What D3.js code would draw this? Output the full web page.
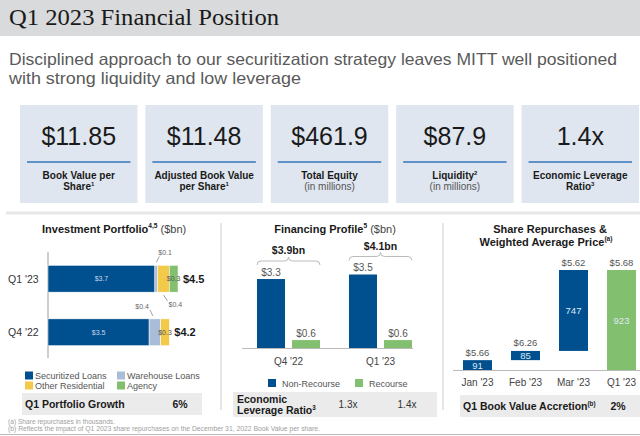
<!DOCTYPE html>
<html><head><meta charset="utf-8">
<script src="https://cdn.jsdelivr.net/npm/d3@7"></script>
<style>html,body{margin:0;padding:0;background:#fff;} svg{display:block;font-family:"Liberation Sans",Arial,sans-serif;}</style>
</head><body><svg id="c" width="640" height="436"></svg>
<script>
// ---------- DATA ----------
const titleText = "Q1 2023 Financial Position";
const subtitleLines = ["Disciplined approach to our securitization strategy leaves MITT well positioned",
                       "with strong liquidity and low leverage"];
const kpiValues = ["$11.85", "$11.48", "$461.9", "$87.9", "1.4x"];
const kpiLabels = [
  [["Book Value per"], ["Share", {t:"1", sup:true}]],
  [["Adjusted Book Value"], ["per Share", {t:"1", sup:true}]],
  [["Total Equity"], [{t:"(in millions)", normal:true, fill:"#555"}]],
  [["Liquidity", {t:"2", sup:true}], [{t:"(in millions)", normal:true, fill:"#555"}]],
  [["Economic Leverage"], ["Ratio", {t:"3", sup:true}]]
];

// Investment portfolio ($bn)
const portfolioTitle = ["Investment Portfolio", {t:"4,5", sup:true}, {t:" ($bn)", normal:true, fill:"#444"}];
const portfolioPeriods = ["Q1 '23", "Q4 '22"];
const portfolioKeys = ["securitized", "warehouse", "other", "agency"];
const portfolioSeries = ["Securitized Loans", "Warehouse Loans", "Other Residential", "Agency"];
const securitized = [3.7, 3.5];
const warehouse = [0.1, 0.4];
const otherResidential = [0.4, 0.3];
const agency = [0.3, 0.0];
const portfolioTotals = ["$4.5", "$4.2"];
const portfolioGrowthLabel = "Q1 Portfolio Growth";
const portfolioGrowth = "6%";

// Financing profile ($bn)
const financingTitle = ["Financing Profile", {t:"5", sup:true}, {t:" ($bn)", normal:true, fill:"#444"}];
const financingPeriods = ["Q4 '22", "Q1 '23"];
const financingSeries = ["Non-Recourse", "Recourse"];
const nonRecourse = [3.3, 3.5];
const recourse = [0.6, 0.6];
const financingTotals = ["$3.9bn", "$4.1bn"];
const leverageRatios = ["1.3x", "1.4x"];

// Share repurchases (thousands) & weighted average price
const repoTitle1 = ["Share Repurchases &"];
const repoTitle2 = ["Weighted Average Price", {t:"(a)", sup:true}];
const repoMonths = ["Jan '23", "Feb '23", "Mar '23", "Q1 '23"];
const repoShares = [91, 85, 747, 923];
const repoIsTotal = [false, false, false, true];
const repoPrices = ["$5.66", "$6.26", "$5.62", "$5.68"];
const accretionLabel = ["Q1 Book Value Accretion", {t:"(b)", sup:true}];
const accretion = "2%";

const footnotes = ["(a) Share repurchases in thousands.",
  "(b) Reflects the impact of Q1 2023 share repurchases on the December 31, 2022 Book Value per share."];

// ---------- STYLE ----------
const C = {navy:"#00508f", lightBlue:"#a9bcd8", yellow:"#f3c94a", green:"#82bf6f",
           box:"#dfe6ef", sum:"#ebebeb", line:"#5e92c8", text:"#1a1a1a", gray:"#555"};
const portfolioColors = [C.navy, C.lightBlue, C.yellow, C.green];

const svg = d3.select("#c");

function rich(g, x, y, parts, o) {
  o = o || {};
  const size = o.size || 10;
  const t = g.append("text").attr("x", x).attr("y", y).attr("font-size", size)
    .attr("text-anchor", o.anchor || "start").attr("font-weight", o.weight || "normal")
    .attr("fill", o.fill || C.text);
  let shifted = 0;
  parts.forEach(p => {
    const s = typeof p === "string" ? {t:p} : p;
    const ts = t.append("tspan").text(s.t);
    const want = s.sup ? -size * 0.42 : 0;
    if (want !== shifted) { ts.attr("dy", want - shifted); shifted = want; }
    if (s.sup) ts.attr("font-size", size * 0.6);
    if (s.normal) ts.attr("font-weight", "normal");
    if (s.fill) ts.attr("fill", s.fill);
  });
  return t;
}

// ---------- HEADER ----------
svg.append("rect").attr("x", 0).attr("y", 0).attr("width", 640).attr("height", 36).attr("fill", "#d9dadc");
svg.append("text").attr("x", 9).attr("y", 25).attr("font-family", "'Liberation Serif','DejaVu Serif',serif")
  .attr("font-size", 23).attr("fill", "#1a1a1a").attr("textLength", 270).attr("lengthAdjust", "spacingAndGlyphs")
  .text(titleText);
const subLens = [608, 292];
subtitleLines.forEach((s, i) => {
  svg.append("text").attr("x", 9).attr("y", 65 + i * 19).attr("font-size", 16.5).attr("fill", "#5a5a5a")
    .attr("textLength", subLens[i]).attr("lengthAdjust", "spacingAndGlyphs").text(s);
});

// ---------- KPI ROW ----------
const kx = d3.scaleBand().domain(d3.range(kpiValues.length)).range([20, 639]).paddingInner(0.063);
const kg = svg.append("g");
kpiValues.forEach((v, i) => {
  const x0 = kx(i), w = kx.bandwidth(), cx = x0 + w / 2;
  kg.append("rect").attr("x", x0).attr("y", 105).attr("width", w).attr("height", 98).attr("fill", C.box);
  kg.append("text").attr("x", cx).attr("y", 145).attr("text-anchor", "middle").attr("font-size", 25)
    .attr("fill", C.text).text(v);
  kg.append("line").attr("x1", x0 + 7).attr("x2", x0 + w - 7).attr("y1", 162).attr("y2", 162)
    .attr("stroke", C.line).attr("stroke-width", 2);
  kpiLabels[i].forEach((ln, j) => {
    rich(kg, cx, 179 + j * 11, ln, {size: 10, anchor: "middle", weight: "bold"});
  });
});

// separators
svg.append("line").attr("x1", 6).attr("x2", 640).attr("y1", 213).attr("y2", 213).attr("stroke", "#e7e7e7").attr("stroke-width", 3);
[221, 443].forEach(x => svg.append("line").attr("x1", x).attr("x2", x).attr("y1", 223).attr("y2", 410)
  .attr("stroke", "#e6e6e6").attr("stroke-width", 2));

// ---------- PANEL 1: INVESTMENT PORTFOLIO ----------
const p1 = svg.append("g");
rich(p1, 42, 233, portfolioTitle, {size: 11, weight: "bold"});
const pTable = portfolioPeriods.map((p, i) => ({period: p, securitized: securitized[i], warehouse: warehouse[i],
  other: otherResidential[i], agency: agency[i]}));
const pStack = d3.stack().keys(portfolioKeys)(pTable);
const px = d3.scaleLinear().domain([0, 4.5]).range([48, 178]);
const py = d3.scaleBand().domain(portfolioPeriods).range([252, 359]).paddingInner(0.5).paddingOuter(0.25);
p1.append("line").attr("x1", 48).attr("x2", 48).attr("y1", 252).attr("y2", 358).attr("stroke", "#bdbdbd").attr("stroke-width", 1.5);
pStack.forEach((layer, k) => {
  p1.selectAll(null).data(layer.filter(d => d[1] - d[0] > 0)).join("rect")
    .attr("x", d => px(d[0])).attr("y", d => py(d.data.period))
    .attr("width", d => px(d[1]) - px(d[0])).attr("height", py.bandwidth())
    .attr("fill", portfolioColors[k]).attr("stroke", "#fff").attr("stroke-width", 0.5);
});
const fmt = v => "$" + v.toFixed(1);
portfolioPeriods.forEach((p, i) => {
  const top = py(p), bot = top + py.bandwidth(), cy = top + py.bandwidth() / 2;
  p1.append("text").attr("x", 8).attr("y", cy + 4).attr("font-size", 10.5).attr("fill", "#333").text(p);
  const segs = pStack.map(l => l[i]);
  let lastNZ = -1; segs.forEach((s, k) => { if (s[1] - s[0] > 0) lastNZ = k; });
  segs.forEach((s, k) => {
    const v = s[1] - s[0]; if (v <= 0) return;
    const cx = (px(s[0]) + px(s[1])) / 2;
    if (k === 0) {
      p1.append("text").attr("x", cx).attr("y", cy + 2.5).attr("text-anchor", "middle").attr("font-size", 7)
        .attr("fill", "#c9d6ea").text(fmt(v));
    } else if (k === lastNZ) {
      p1.append("text").attr("x", cx).attr("y", cy + 2.5).attr("text-anchor", "middle").attr("font-size", 7)
        .attr("fill", "#555").text(fmt(v));
    } else if (k === 1) {
      const dir = i === 0 ? 1 : -1;
      p1.append("line").attr("x1", cx - (dir < 0 ? 2 : 0)).attr("y1", top - 3).attr("x2", cx + dir * 3 - (dir < 0 ? 2 : 0)).attr("y2", top - 9)
        .attr("stroke", "#777").attr("stroke-width", 0.7);
      p1.append("text").attr("x", dir > 0 ? cx + 2 : cx - 6).attr("y", top - 10)
        .attr("text-anchor", dir > 0 ? "start" : "end").attr("font-size", 7).attr("fill", "#666").text(fmt(v));
    } else {
      p1.append("line").attr("x1", cx).attr("y1", bot + 3).attr("x2", cx + 4).attr("y2", bot + 9)
        .attr("stroke", "#777").attr("stroke-width", 0.7);
      p1.append("text").attr("x", cx + 5).attr("y", bot + 15).attr("font-size", 7).attr("fill", "#666").text(fmt(v));
    }
  });
  const end = px(segs[segs.length - 1][1]);
  p1.append("text").attr("x", end + 5).attr("y", cy + 4).attr("font-size", 11).attr("font-weight", "bold")
    .attr("fill", C.text).text(portfolioTotals[i]);
});
// legend
portfolioSeries.forEach((s, k) => {
  const lx = k % 2 === 0 ? 25 : 117, ly = 372 + Math.floor(k / 2) * 10;
  p1.append("rect").attr("x", lx).attr("y", ly - 0.5).attr("width", 8).attr("height", 8).attr("fill", portfolioColors[k]);
  p1.append("text").attr("x", lx + 10).attr("y", ly + 7).attr("font-size", 9).attr("fill", "#555").text(s);
});
p1.append("rect").attr("x", 22).attr("y", 393).attr("width", 180).attr("height", 22).attr("fill", C.sum);
p1.append("text").attr("x", 25).attr("y", 408).attr("font-size", 10.5).attr("font-weight", "bold").attr("fill", C.text).text(portfolioGrowthLabel);
p1.append("text").attr("x", 180).attr("y", 408).attr("text-anchor", "middle").attr("font-size", 10.5).attr("font-weight", "bold").attr("fill", C.text).text(portfolioGrowth);

// ---------- PANEL 2: FINANCING PROFILE ----------
const p2 = svg.append("g");
rich(p2, 335, 233, financingTitle, {size: 11, weight: "bold", anchor: "middle"});
const fx0 = d3.scaleBand().domain(financingPeriods).range([242, 427]).paddingInner(0.315).paddingOuter(0.163);
const fx1 = d3.scaleBand().domain(financingSeries).range([0, fx0.bandwidth()]).paddingInner(0.2);
const fy = d3.scaleLinear().domain([0.25, 3.5]).range([348, 274.5]);
const fColors = [C.navy, C.green];
financingPeriods.forEach((p, i) => {
  const vals = [nonRecourse[i], recourse[i]];
  vals.forEach((v, k) => {
    const x = fx0(p) + fx1(financingSeries[k]);
    p2.append("rect").attr("x", x).attr("y", fy(v)).attr("width", fx1.bandwidth()).attr("height", 348 - fy(v)).attr("fill", fColors[k]);
    p2.append("text").attr("x", x + fx1.bandwidth() / 2).attr("y", fy(v) - 3.5).attr("text-anchor", "middle")
      .attr("font-size", 10).attr("fill", "#555").text(fmt(v));
  });
  // brace
  const xa = fx0(p), xb = fx0(p) + fx0.bandwidth(), xm = (xa + xb) / 2;
  const by = fy(Math.max(...vals)) - 18, r = 4;
  const path = `M${xa},${by + r} Q${xa},${by} ${xa + r},${by} L${xm - r},${by} Q${xm},${by} ${xm},${by - r} Q${xm},${by} ${xm + r},${by} L${xb - r},${by} Q${xb},${by} ${xb},${by + r}`;
  p2.append("path").attr("d", path).attr("fill", "none").attr("stroke", "#aaa").attr("stroke-width", 0.8);
  p2.append("text").attr("x", xm).attr("y", by - 7).attr("text-anchor", "middle").attr("font-size", 10.5)
    .attr("font-weight", "bold").attr("fill", C.text).text(financingTotals[i]);
  p2.append("text").attr("x", xm).attr("y", 365).attr("text-anchor", "middle").attr("font-size", 10).attr("fill", "#444").text(p);
});
p2.append("line").attr("x1", 242).attr("x2", 413).attr("y1", 348.5).attr("y2", 348.5).attr("stroke", "#bbb").attr("stroke-width", 1);
[[268, 0], [355, 1]].forEach(([lx, k]) => {
  p2.append("rect").attr("x", lx).attr("y", 379).attr("width", 8).attr("height", 8).attr("fill", fColors[k]);
  p2.append("text").attr("x", lx + 14).attr("y", 387).attr("font-size", 9).attr("fill", "#555").text(financingSeries[k]);
});
p2.append("rect").attr("x", 233).attr("y", 392).attr("width", 204).attr("height", 25).attr("fill", C.sum);
p2.append("text").attr("x", 237).attr("y", 403).attr("font-size", 10.5).attr("font-weight", "bold").attr("fill", C.text).text("Economic");
rich(p2, 237, 414, ["Leverage Ratio", {t:"3", sup:true}], {size: 10.5, weight: "bold"});
[348, 407].forEach((x, i) => p2.append("text").attr("x", x).attr("y", 408).attr("text-anchor", "middle")
  .attr("font-size", 10).attr("fill", "#333").text(leverageRatios[i]));

// ---------- PANEL 3: SHARE REPURCHASES ----------
const p3 = svg.append("g");
rich(p3, 550, 233, repoTitle1, {size: 11, weight: "bold", anchor: "middle"});
rich(p3, 546, 246, repoTitle2, {size: 11, weight: "bold", anchor: "middle"});
const rx = d3.scaleBand().domain(repoMonths).range([453, 646]).paddingInner(0.396).paddingOuter(0.208);
const ry = d3.scaleLinear().domain([0, 923]).range([370, 270]);
let cum = 0;
const repoBars = repoMonths.map((m, i) => {
  let y0, y1;
  if (repoIsTotal[i]) { y0 = 0; y1 = repoShares[i]; }
  else { y0 = cum; y1 = cum + repoShares[i]; cum = y1; }
  return {m, y0, y1, v: repoShares[i], total: repoIsTotal[i], price: repoPrices[i]};
});
repoBars.forEach(b => {
  const x = rx(b.m), w = rx.bandwidth();
  p3.append("rect").attr("x", x).attr("y", ry(b.y1)).attr("width", w).attr("height", ry(b.y0) - ry(b.y1))
    .attr("fill", b.total ? C.green : C.navy);
  p3.append("text").attr("x", x + w / 2).attr("y", (ry(b.y0) + ry(b.y1)) / 2 + 3.5).attr("text-anchor", "middle")
    .attr("font-size", 9.5).attr("fill", "#dfe8f3").text(b.v);
  p3.append("text").attr("x", x + w / 2).attr("y", ry(b.y1) - 4.5).attr("text-anchor", "middle")
    .attr("font-size", 9.5).attr("fill", "#555").text(b.price);
  p3.append("text").attr("x", x + w / 2).attr("y", 386).attr("text-anchor", "middle")
    .attr("font-size", 10).attr("fill", "#444").text(b.m);
});
p3.append("line").attr("x1", 453).attr("x2", 640).attr("y1", 370.5).attr("y2", 370.5).attr("stroke", "#bbb").attr("stroke-width", 1);
p3.append("rect").attr("x", 460).attr("y", 395).attr("width", 180).attr("height", 22).attr("fill", C.sum);
rich(p3, 463, 410, accretionLabel, {size: 10.5, weight: "bold"});
p3.append("text").attr("x", 618).attr("y", 410).attr("text-anchor", "middle").attr("font-size", 10.5)
  .attr("font-weight", "bold").attr("fill", C.text).text(accretion);

// ---------- FOOTNOTES ----------
const footLens = [107, 312];
footnotes.forEach((f, i) => svg.append("text").attr("x", 8).attr("y", 424 + i * 6.5).attr("font-size", 6.5)
  .attr("fill", "#a0a0a0").attr("textLength", footLens[i]).attr("lengthAdjust", "spacingAndGlyphs").text(f));
svg.append("line").attr("x1", 0).attr("x2", 640).attr("y1", 434.5).attr("y2", 434.5).attr("stroke", "#bbb").attr("stroke-width", 1);
</script></body></html>
